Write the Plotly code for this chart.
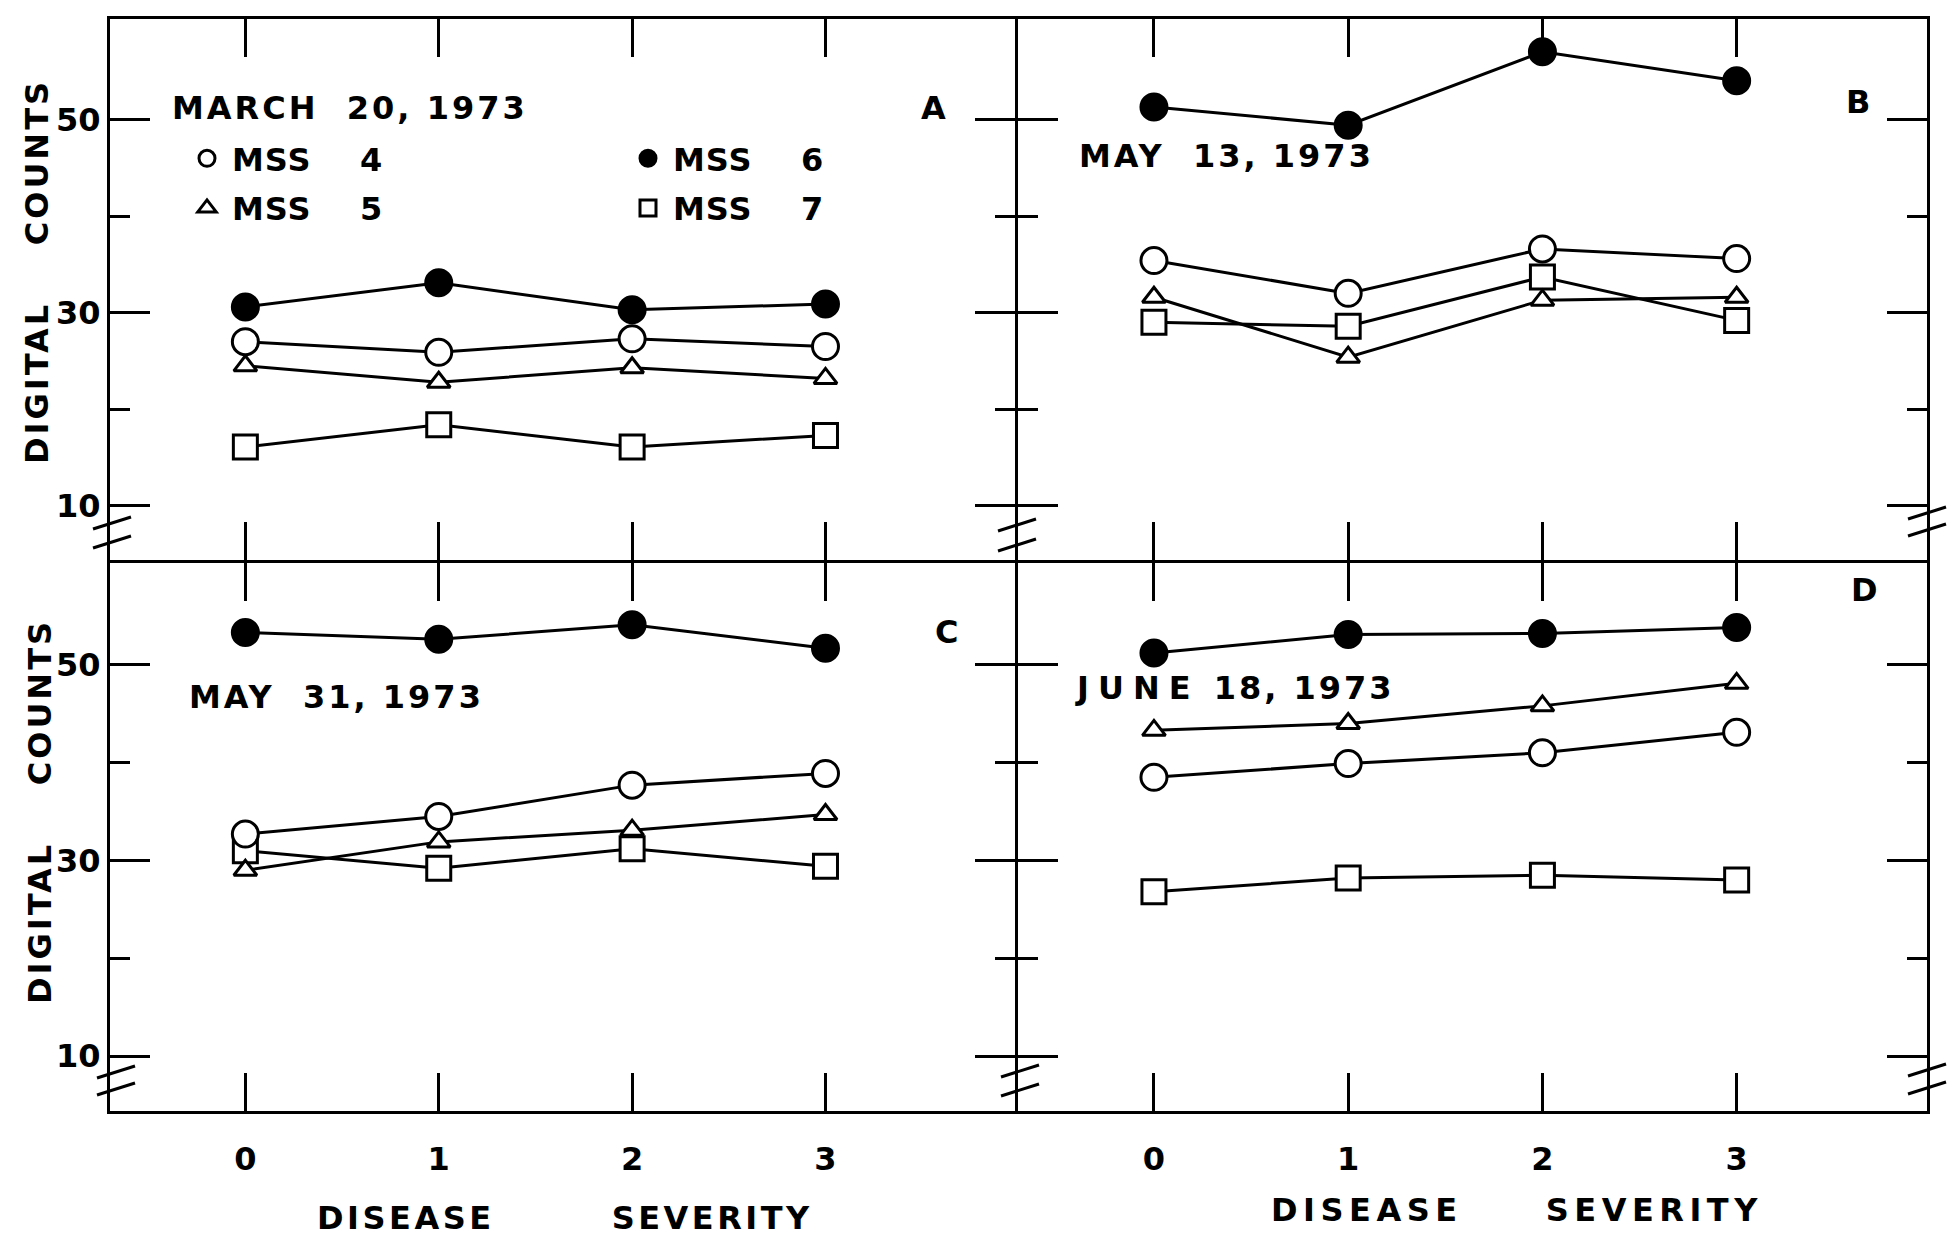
import plotly.graph_objects as go

# ---------------- data ----------------
severity = [0, 1, 2, 3]
severity_labels = ["0", "1", "2", "3"]
y_tick_vals = [10, 30, 50]
y_minor_vals = [20, 40]

panel_letters = ["A", "B", "C", "D"]
panel_dates = ["MARCH 20, 1973", "MAY 13, 1973", "MAY 31, 1973", "JUNE 18, 1973"]
band_names = ["MSS 4", "MSS 5", "MSS 6", "MSS 7"]

# Panel A  (March 20, 1973)
mss4_a = [27.0, 25.9, 27.3, 26.5]
mss5_a = [24.5, 22.8, 24.3, 23.2]
mss6_a = [30.6, 33.1, 30.3, 30.9]
mss7_a = [16.1, 18.4, 16.1, 17.3]
# Panel B  (May 13, 1973)
mss4_b = [35.4, 32.0, 36.6, 35.6]
mss5_b = [31.6, 25.4, 31.3, 31.6]
mss6_b = [51.3, 49.4, 57.0, 54.0]
mss7_b = [29.0, 28.6, 33.7, 29.2]
# Panel C  (May 31, 1973)
mss4_c = [32.7, 34.5, 37.7, 38.9]
mss5_c = [29.0, 31.9, 33.1, 34.7]
mss6_c = [53.3, 52.6, 54.1, 51.7]
mss7_c = [31.0, 29.2, 31.2, 29.4]
# Panel D  (June 18, 1973)
mss4_d = [38.5, 39.9, 41.0, 43.1]
mss5_d = [43.3, 44.0, 45.8, 48.1]
mss6_d = [51.2, 53.1, 53.2, 53.8]
mss7_d = [26.8, 28.2, 28.5, 28.0]

# ---------------- styling ----------------
FONT = "DejaVu Sans"
BLACK = "black"
W, H = 1952, 1241
PL, PR, PT, PB = 110, 1927, 19, 1111          # plot area in pixels
PW, PH = PR - PL, PB - PT
XMID, YMID = 1015, 560
LW = 3


def px(x):
    return (x - PL) / PW


def py(y):
    return (PB - y) / PH


def spaced(text, ls):
    return f'<span style="letter-spacing:{ls}px">{text}</span>'


def tfont(size=32):
    return dict(family=FONT, size=size, color=BLACK, weight="bold")


styles = {
    "MSS 4": dict(symbol="circle", color="white", size=26),
    "MSS 5": dict(symbol="triangle-up", color="white", size=20),
    "MSS 6": dict(symbol="circle", color=BLACK, size=26),
    "MSS 7": dict(symbol="square", color="white", size=24),
}

panels = [
    ("x", "y", {"MSS 4": mss4_a, "MSS 5": mss5_a, "MSS 6": mss6_a, "MSS 7": mss7_a}),
    ("x2", "y2", {"MSS 4": mss4_b, "MSS 5": mss5_b, "MSS 6": mss6_b, "MSS 7": mss7_b}),
    ("x3", "y3", {"MSS 4": mss4_c, "MSS 5": mss5_c, "MSS 6": mss6_c, "MSS 7": mss7_c}),
    ("x4", "y4", {"MSS 4": mss4_d, "MSS 5": mss5_d, "MSS 6": mss6_d, "MSS 7": mss7_d}),
]

fig = go.Figure()

draw_order = ["MSS 7", "MSS 5", "MSS 4", "MSS 6"]
for xa, ya, data in panels:
    for name in draw_order:
        st = styles[name]
        fig.add_trace(go.Scatter(
            x=severity, y=data[name], xaxis=xa, yaxis=ya,
            mode="lines+markers", name=name, showlegend=False,
            line=dict(color=BLACK, width=3),
            marker=dict(symbol=st["symbol"], size=st["size"], color=st["color"],
                        line=dict(color=BLACK, width=3)),
            cliponaxis=False,
        ))

# legend keys (marker only)
legend_of = {"MSS 4": "legend", "MSS 5": "legend", "MSS 6": "legend2", "MSS 7": "legend2"}
for name in band_names:
    st = styles[name]
    label = spaced(name.replace(" ", "    "), 1)
    fig.add_trace(go.Scatter(
        x=[None], y=[None], xaxis="x", yaxis="y", mode="markers", name=label,
        legend=legend_of[name], legendgroup=name, showlegend=True,
        marker=dict(symbol=st["symbol"], size=st["size"], color=st["color"],
                    line=dict(color=BLACK, width=3)),
    ))

xbase = dict(range=[-0.70, 3.98], tickmode="array", tickvals=severity, ticktext=severity_labels,
             ticks="inside", ticklen=38, tickwidth=3, tickcolor=BLACK,
             showline=True, linewidth=LW, linecolor=BLACK, mirror="ticks",
             showgrid=False, zeroline=False, fixedrange=True,
             tickfont=tfont(32))
ybase = dict(range=[4.4, 60.4], tickmode="array", tickvals=y_tick_vals,
             ticktext=[str(v) for v in y_tick_vals],
             ticks="inside", ticklen=40, tickwidth=3, tickcolor=BLACK,
             showline=True, linewidth=LW, linecolor=BLACK, mirror="ticks",
             showgrid=False, zeroline=False, fixedrange=True,
             tickfont=tfont(32),
             minor=dict(tickmode="array", tickvals=y_minor_vals, ticks="inside",
                        ticklen=20, tickwidth=3, tickcolor=BLACK, showgrid=False))

# neighbouring panels overlap by one line width so the shared borders coincide
xl, xr = [0, px(XMID)], [px(XMID + LW), 1]
yt, yb = [py(YMID), 1], [0, py(YMID + LW)]

layout = dict(
    width=W, height=H,
    margin=dict(l=PL, r=W - PR, t=PT, b=H - PB),
    paper_bgcolor="white", plot_bgcolor="white",
    font=tfont(32),
    hovermode=False,
    xaxis=dict(xbase, domain=xl, anchor="y", showticklabels=False),
    xaxis2=dict(xbase, domain=xr, anchor="y2", showticklabels=False),
    xaxis3=dict(xbase, domain=xl, anchor="y3", ticklabelstandoff=18),
    xaxis4=dict(xbase, domain=xr, anchor="y4", ticklabelstandoff=18),
    yaxis=dict(ybase, domain=yt, anchor="x"),
    yaxis2=dict(ybase, domain=yt, anchor="x2", showticklabels=False),
    yaxis3=dict(ybase, domain=yb, anchor="x3"),
    yaxis4=dict(ybase, domain=yb, anchor="x4", showticklabels=False),
    legend=dict(x=px(182), y=py(131), xanchor="left", yanchor="top",
                bgcolor="rgba(0,0,0,0)", borderwidth=0, tracegroupgap=5,
                itemwidth=40, font=tfont(32)),
    legend2=dict(x=px(623), y=py(131), xanchor="left", yanchor="top",
                 bgcolor="rgba(0,0,0,0)", borderwidth=0, tracegroupgap=5,
                 itemwidth=40, font=tfont(32)),
)
fig.update_layout(**layout)

annotations = []


def add_text(text, x, y, xanchor="center", angle=0, size=32):
    annotations.append(dict(text=text, x=px(x), y=py(y), xref="paper", yref="paper",
                            xanchor=xanchor, yanchor="middle", showarrow=False,
                            textangle=angle, font=tfont(size)))


# dates
add_text(spaced("MARCH  20, 1973", 3), 170, 108, xanchor="left")
add_text(spaced("MAY  13, 1973", 3), 1077, 156, xanchor="left")
add_text(spaced("MAY  31, 1973", 3), 187, 697, xanchor="left")
add_text(spaced("JUNE", 9) + spaced(" 18, 1973", 3), 1073, 688, xanchor="left")
# panel letters
for letter, (x, y) in zip(panel_letters, [(933, 108), (1858, 102), (946, 632), (1864, 590)]):
    add_text(letter, x, y)
# y-axis titles
add_text(spaced("DIGITAL    COUNTS", 3), 37, 272, angle=-90)
add_text(spaced("DIGITAL    COUNTS", 3), 40, 812, angle=-90)
# x-axis titles
add_text(spaced("DISEASE        SEVERITY", 3.5), 565, 1218)
add_text(spaced("DISEASE     SEVERITY", 5.5), 1517, 1210)

fig.update_layout(annotations=annotations)

# axis-break marks
breaks = [(112, 523), (112, 542), (1017, 525), (1017, 545), (1927, 513), (1927, 530),
          (116, 1072), (116, 1089), (1020, 1071), (1020, 1090), (1927, 1070), (1927, 1088)]
shapes = []
for cx, cy in breaks:
    shapes.append(dict(type="line", xref="paper", yref="paper",
                       x0=px(cx - 19), y0=py(cy + 6), x1=px(cx + 19), y1=py(cy - 6),
                       line=dict(color=BLACK, width=3)))
fig.update_layout(shapes=shapes)

fig.write_html("out.html", config={"displayModeBar": False},
               post_script="document.body.style.margin='0';")
